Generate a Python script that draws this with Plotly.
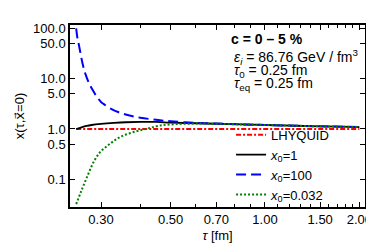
import plotly.graph_objects as go

# Data
tau_lhy = [0.25, 2.0]
x_lhy = [1.0, 1.0]

tau_x1 = [0.25, 0.26, 0.27, 0.28, 0.30, 0.33, 0.36, 0.40, 0.45, 0.50, 0.60, 0.70, 0.85, 1.0, 1.25, 1.5, 1.75, 2.0]
x_x1 = [1.0, 1.08, 1.15, 1.20, 1.26, 1.32, 1.36, 1.38, 1.38, 1.34, 1.30, 1.27, 1.23, 1.20, 1.16, 1.13, 1.11, 1.09]

tau_x100 = [0.25, 0.2525, 0.255, 0.2585, 0.263, 0.268, 0.275, 0.281, 0.29, 0.30, 0.3056, 0.32, 0.34, 0.37, 0.40, 0.45, 0.50, 0.60, 0.70, 0.85, 1.0, 1.25, 1.5, 1.75, 2.0]
x_x100 = [100, 62, 47, 30, 18, 12, 8.0, 6.2, 4.5, 3.45, 3.15, 2.6, 2.17, 1.85, 1.68, 1.52, 1.42, 1.33, 1.28, 1.23, 1.20, 1.16, 1.13, 1.11, 1.09]

tau_x0032 = [0.25, 0.2585, 0.2713, 0.2846, 0.2985, 0.3207, 0.3445, 0.379, 0.417, 0.459, 0.52, 0.60, 0.70, 0.85, 1.0, 1.25, 1.5, 1.75, 2.0]
x_x0032 = [0.032, 0.055, 0.115, 0.225, 0.35, 0.51, 0.69, 0.86, 1.0, 1.16, 1.25, 1.28, 1.27, 1.23, 1.20, 1.16, 1.13, 1.11, 1.09]

x_tickvals = [0.3, 0.5, 0.7, 1.0, 1.5, 2.0]
x_ticktext = ["0.30", "0.50", "0.70", "1.00", "1.50", "2.00"]
x_minor = [0.4, 0.6, 0.8, 0.9, 1.1, 1.2, 1.3, 1.4, 1.6, 1.7, 1.8, 1.9]
y_tickvals = [0.1, 0.5, 1, 5, 10, 50, 100]
y_ticktext = ["0.1", "0.5", "1.0", "5.0", "10.0", "50.0", "100.0"]

FONT = "Liberation Sans, Arial, sans-serif"

fig = go.Figure()
fig.add_trace(go.Scatter(x=tau_lhy, y=x_lhy, mode="lines", name="LHYQUID",
                         line=dict(color="#ff0000", width=2, dash="5px,2px,2px,2px")))
fig.add_trace(go.Scatter(x=tau_x1, y=x_x1, mode="lines", name="<i>x</i><sub>0</sub>=1",
                         line=dict(color="black", width=1.8, shape="spline")))
fig.add_trace(go.Scatter(x=tau_x100, y=x_x100, mode="lines", name="<i>x</i><sub>0</sub>=100",
                         line=dict(color="#0000ff", width=2, dash="10px,5px", shape="spline")))
fig.add_trace(go.Scatter(x=tau_x0032, y=x_x0032, mode="lines", name="<i>x</i><sub>0</sub>=0.032",
                         line=dict(color="#008000", width=2, dash="2px,2px", shape="spline")))

axis_common = dict(showline=True, linecolor="black", linewidth=1.5, mirror="allticks",
                   ticks="inside", ticklen=5, tickcolor="black", showgrid=False, zeroline=False,
                   tickfont=dict(family=FONT, size=13, color="black"))

fig.update_xaxes(type="log", range=[-0.6218, 0.319], tickvals=x_tickvals, ticktext=x_ticktext,
                 minor=dict(tickvals=x_minor, ticks="inside", ticklen=3, tickcolor="black"),
                 title=dict(text="<i>τ</i> [fm]", font=dict(family=FONT, size=13, color="black"), standoff=5),
                 **axis_common)
fig.update_yaxes(type="log", range=[-1.55, 2.066], tickvals=y_tickvals, ticktext=y_ticktext,
                 title=dict(text="x(τ,<span style='font-family:DejaVu Sans'>x⃗</span>=0)",
                            font=dict(family=FONT, size=13, color="black"), standoff=6),
                 **axis_common)

ann_font = dict(family=FONT, size=14, color="black")
fig.add_annotation(xref="paper", yref="paper", x=0.538, y=0.925, xanchor="left", yanchor="middle", align="left",
                   text="<b>c = 0 – 5 %</b>", showarrow=False, font=dict(family=FONT, size=14, color="black"))
fig.add_annotation(xref="paper", yref="paper", x=0.55, y=0.825, xanchor="left", yanchor="middle", align="left",
                   text="<i>ε</i><sub><i>i</i></sub> = 86.76 GeV / fm<sup>3</sup>", showarrow=False, font=ann_font)
fig.add_annotation(xref="paper", yref="paper", x=0.55, y=0.745, xanchor="left", yanchor="middle", align="left",
                   text="<i>τ</i><sub>0</sub> = 0.25 fm", showarrow=False, font=ann_font)
fig.add_annotation(xref="paper", yref="paper", x=0.55, y=0.675, xanchor="left", yanchor="middle", align="left",
                   text="<i>τ</i><sub>eq</sub> = 0.25 fm", showarrow=False, font=ann_font)

fig.update_layout(
    width=374, height=243,
    margin=dict(l=62, r=10, t=17, b=40),
    paper_bgcolor="white", plot_bgcolor="white",
    font=dict(family=FONT, size=13, color="black"),
    legend=dict(x=0.546, y=0.232, xanchor="left", yanchor="middle", bgcolor="rgba(0,0,0,0)",
                font=dict(family=FONT, size=13, color="black"), tracegroupgap=0),
)

fig.write_html("out.html")
